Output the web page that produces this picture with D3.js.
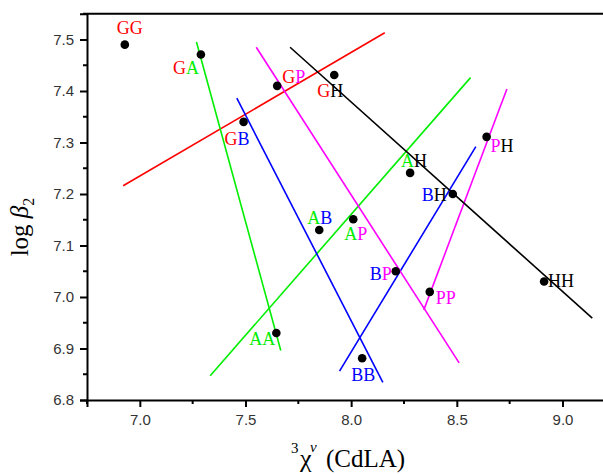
<!DOCTYPE html>
<html>
<head>
<meta charset="utf-8">
<script src="https://cdn.jsdelivr.net/npm/d3@7"></script>
<style>
  html, body { margin: 0; padding: 0; background: #fff; }
  svg { display: block; }
</style>
</head>
<body>
<svg id="chart" width="603" height="474"></svg>
<script>
// ---- data ----
const pointNames = ["GG","GA","GB","GP","GH","AA","AB","AP","AH","BB","BP","BH","PP","PH","HH"];
const pointX = [6.929, 7.289, 7.491, 7.650, 7.920, 7.646, 7.849, 8.010, 8.279, 8.052, 8.211, 8.481, 8.372, 8.641, 8.913];
const pointY = [7.490, 7.471, 7.340, 7.410, 7.431, 6.930, 7.130, 7.151, 7.241, 6.881, 7.050, 7.200, 7.010, 7.311, 7.030];

// fitted lines (one per group letter), endpoints in data units
const lineGroups = ["G", "A1", "A2", "B1", "B2", "P1", "P2", "H"];
const lineX1 = [6.921, 7.268, 7.333, 7.459, 7.945, 7.551, 8.344, 7.711];
const lineY1 = [7.216, 7.495, 6.847, 7.386, 6.856, 7.485, 6.975, 7.485];
const lineX2 = [8.159, 7.667, 8.565, 8.150, 8.590, 8.511, 8.737, 9.141];
const lineY2 = [7.513, 6.896, 7.426, 6.834, 7.292, 6.872, 7.404, 6.959];

const xTicks = [7.0, 7.5, 8.0, 8.5, 9.0];
const yTicks = [6.8, 6.9, 7.0, 7.1, 7.2, 7.3, 7.4, 7.5];
const xDomain = [6.75, 9.25];
const yDomain = [6.8, 7.55];

// ---- styles / layout ----
const letterColor = { G: "#ff0000", A: "#00ee00", B: "#0000ff", P: "#ff00ff", H: "#000000" };
const lineColor = g => letterColor[g[0]];
// label offsets (pixels) relative to each point: [dx, dy(baseline)]
const labelOffsets = {
  GG: [-8, -11], GA: [-28, 20], GB: [-19, 23], GP: [5, -3], GH: [-17, 22],
  AA: [-27, 12], AB: [-12, -6], AP: [-9, 21], AH: [-9, -6],
  BB: [-11, 23], BP: [-26, 9], BH: [-31, 7],
  PP: [6, 12], PH: [4, 15], HH: [4, 5]
};

const svg = d3.select("#chart");
const x = d3.scaleLinear().domain(xDomain).range([87, 615.3]);
const y = d3.scaleLinear().domain(yDomain).range([400, 13.75]);

// frame (top border)
svg.append("line").attr("x1", 87).attr("x2", 615).attr("y1", y(yDomain[1])).attr("y2", y(yDomain[1]))
  .attr("stroke", "#000").attr("stroke-width", 2);

// lines
svg.append("g").selectAll("line").data(lineGroups).join("line")
  .attr("x1", (d, i) => x(lineX1[i])).attr("y1", (d, i) => y(lineY1[i]))
  .attr("x2", (d, i) => x(lineX2[i])).attr("y2", (d, i) => y(lineY2[i]))
  .attr("stroke", d => lineColor(d)).attr("stroke-width", 1.6);

// axes
const tickFont = "'Liberation Sans', Arial, sans-serif";
const xMinor = d3.range(6.75, 9.26, 0.25).filter(v => !xTicks.some(t => Math.abs(t - v) < 1e-6));
const yMinor = d3.range(6.85, 7.56, 0.1);

const xAxisG = svg.append("g").attr("transform", "translate(0,400)")
  .call(d3.axisBottom(x).tickValues(xTicks).tickFormat(d3.format(".1f")).tickSize(7).tickPadding(7));
const yAxisG = svg.append("g").attr("transform", "translate(87,0)")
  .call(d3.axisLeft(y).tickValues(yTicks).tickFormat(d3.format(".1f")).tickSize(7).tickPadding(6));
[xAxisG, yAxisG].forEach(g => {
  g.select(".domain").attr("stroke", "#000").attr("stroke-width", 2);
  g.selectAll(".tick line").attr("stroke", "#000").attr("stroke-width", 2);
  g.selectAll(".tick text").attr("font-family", tickFont).attr("font-size", 15).attr("fill", "#333");
});
xAxisG.append("g").selectAll("line").data(xMinor).join("line")
  .attr("x1", d => x(d)).attr("x2", d => x(d)).attr("y1", 0).attr("y2", 4)
  .attr("stroke", "#000").attr("stroke-width", 2);
yAxisG.append("g").selectAll("line").data(yMinor).join("line")
  .attr("y1", d => y(d)).attr("y2", d => y(d)).attr("x1", 0).attr("x2", -4)
  .attr("stroke", "#000").attr("stroke-width", 2);

// points
svg.append("g").selectAll("circle").data(pointNames).join("circle")
  .attr("cx", (d, i) => x(pointX[i])).attr("cy", (d, i) => y(pointY[i]))
  .attr("r", 4.3).attr("fill", "#000");

// labels
const serif = "'Liberation Serif', 'Times New Roman', Times, serif";
const lbl = svg.append("g").selectAll("text").data(pointNames).join("text")
  .attr("x", (d, i) => x(pointX[i]) + labelOffsets[d][0])
  .attr("y", (d, i) => y(pointY[i]) + labelOffsets[d][1])
  .attr("font-family", serif).attr("font-size", 18);
lbl.selectAll("tspan").data(d => d.split("")).join("tspan")
  .attr("fill", c => letterColor[c]).text(c => c);

// y title
const yt = svg.append("text").attr("transform", "translate(28,227) rotate(-90)")
  .attr("text-anchor", "middle").attr("font-family", serif).attr("font-size", 25).attr("fill", "#000");
yt.append("tspan").text("log ");
yt.append("tspan").attr("font-style", "italic").text("β");
yt.append("tspan").attr("font-size", 16).attr("dy", 6).text("2");

// x title
const xtParts = [
  { t: "3", x: 291, y: 453, s: 15, it: false },
  { t: "χ", x: 300, y: 467, s: 26, it: false },
  { t: "v", x: 310, y: 452, s: 15, it: true },
  { t: "(CdLA)", x: 326, y: 467, s: 25, it: false }
];
svg.append("g").selectAll("text").data(xtParts).join("text")
  .attr("x", d => d.x).attr("y", d => d.y)
  .attr("font-family", serif).attr("font-size", d => d.s)
  .attr("font-style", d => d.it ? "italic" : "normal")
  .attr("fill", "#000").text(d => d.t);
</script>
</body>
</html>
